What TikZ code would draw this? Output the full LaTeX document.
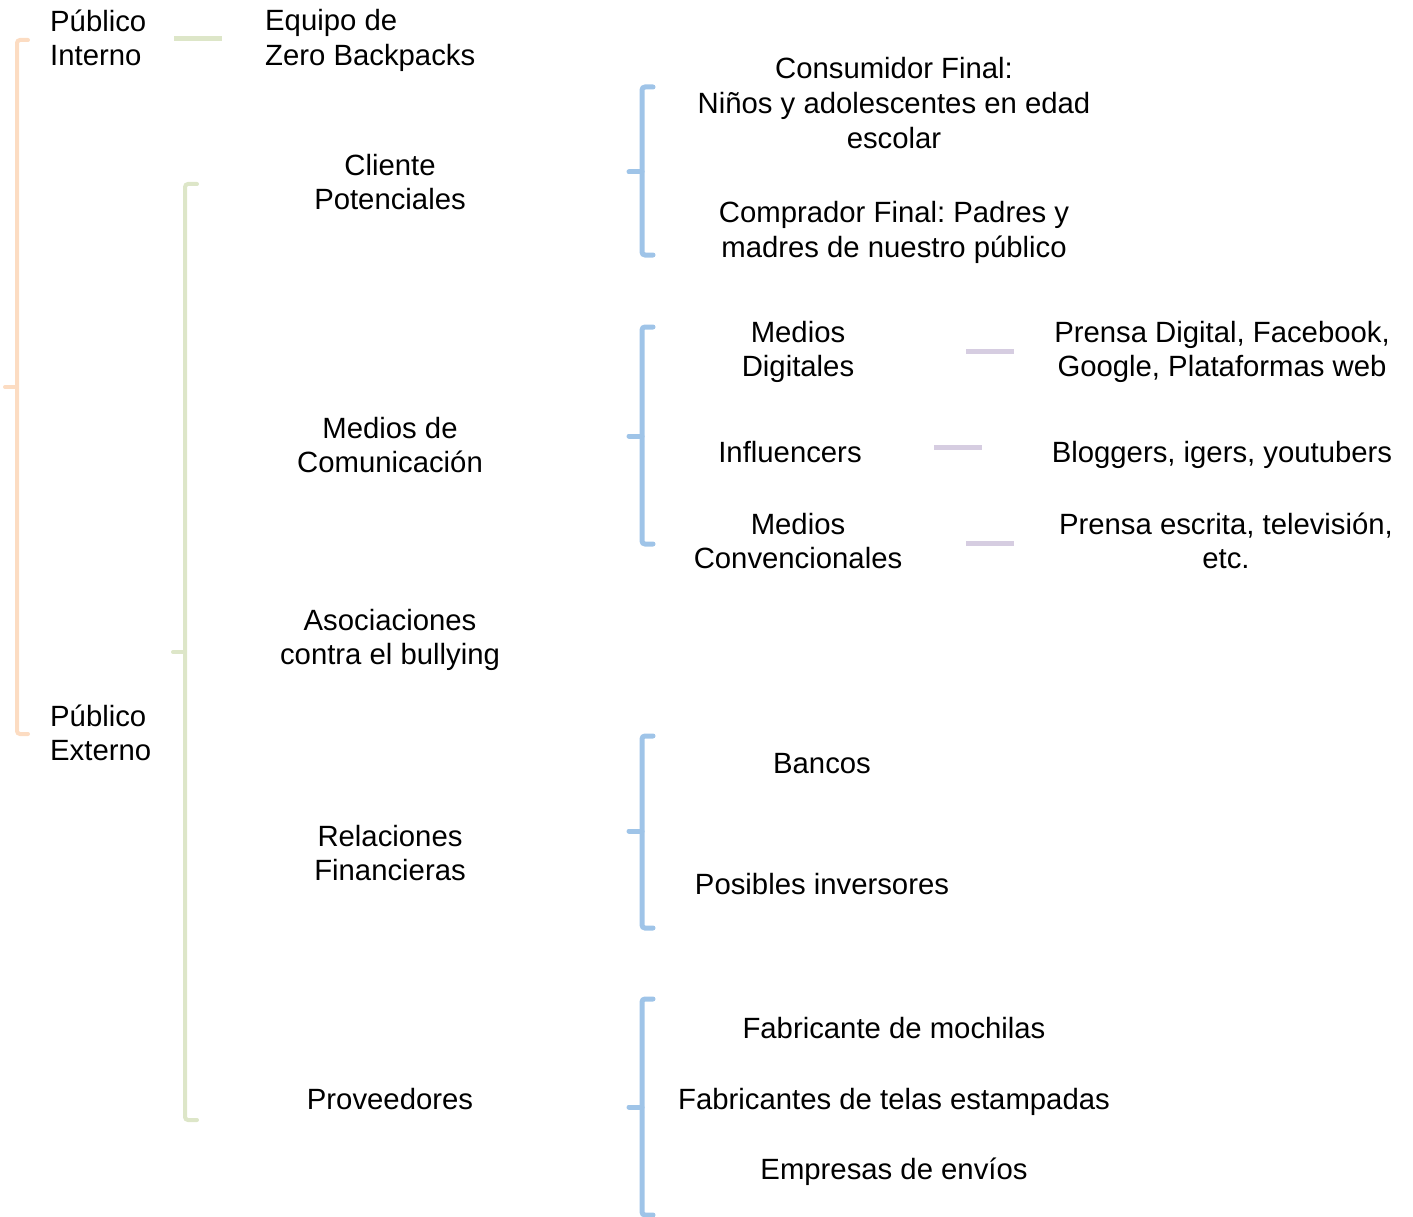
\documentclass[tikz,border=0pt]{standalone}
\usepackage{fontspec}
\setmainfont{Liberation Sans}
\definecolor{cOrange}{HTML}{FCDCC2}
\definecolor{cGreen}{HTML}{DDE6C8}
\definecolor{cBlue}{HTML}{9FC4E8}
\definecolor{cLav}{HTML}{D6CDE1}
\begin{document}
\frenchspacing
\begin{tikzpicture}[x=1pt,y=-1pt,
  lbl/.style={font=\fontsize{29.3}{34.6}\selectfont\frenchspacing, align=center, inner sep=0pt},
  lbll/.style={lbl, align=left, anchor=west},
  brkO/.style={draw=cOrange, line width=4pt, rounded corners=3pt, line cap=round},
  brkG/.style={draw=cGreen, line width=4pt, rounded corners=3pt, line cap=round},
  brkB/.style={draw=cBlue, line width=5pt, rounded corners=3pt, line cap=round},
  dashG/.style={draw=cGreen, line width=5pt},
  dashL/.style={draw=cLav, line width=5pt}]
\useasboundingbox (0,0) rectangle (1413,1217);

% orange bracket
\draw[brkO] (28,40) -- (17,40) -- (17,734) -- (28,734);
\draw[brkO] (17,387) -- (5,387);
% green bracket
\draw[brkG] (197,184) -- (185,184) -- (185,1120) -- (197,1120);
\draw[brkG] (185,652) -- (173,652);
% blue brackets
\draw[brkB] (653,87) -- (642,87) -- (642,255) -- (653,255);
\draw[brkB] (642,172) -- (629,172);
\draw[brkB] (653,327) -- (642,327) -- (642,544) -- (653,544);
\draw[brkB] (642,436) -- (629,436);
\draw[brkB] (653,736) -- (642,736) -- (642,928) -- (653,928);
\draw[brkB] (642,831) -- (629,831);
\draw[brkB] (653,999) -- (642,999) -- (642,1215) -- (653,1215);
\draw[brkB] (642,1107) -- (629,1107);

% level 0
\node[lbll] (pint) at (50,38) {Público\\Interno};
\node[lbll] (pext) at (50,733) {Público\\Externo};
\node[lbll] (equipo) at (265,40.5) {Equipo de\\Zero Backpacks};
\coordinate (g1) at (174,39); \coordinate (g2) at (222,39);
\draw[dashG] (g1) -- (g2);

% level 1
\node[lbl] (cli) at (390,182) {Cliente\\Potenciales};
\node[lbl] (med) at (390,445) {Medios de\\Comunicación};
\node[lbl] (aso) at (390,640) {Asociaciones\\contra el bullying};
\node[lbl] (rel) at (390,853) {Relaciones\\Financieras};
\node[lbl] (prov) at (390,1099) {Proveedores};

% level 2
\node[lbl] (cons) at (894,103) {Consumidor Final:\\Niños y adolescentes en edad\\escolar};
\node[lbl] (comp) at (894,232.5) {Comprador Final: Padres y\\madres de nuestro público};
\node[lbl] (mdig) at (798,352) {Medios\\Digitales};
\node[lbl] (infl) at (790,452) {Influencers};
\node[lbl] (mconv) at (798,541) {Medios\\Convencionales};
\node[lbl] (banc) at (822,764) {Bancos};
\node[lbl] (inv) at (822,884) {Posibles inversores};
\node[lbl] (fmoch) at (894,1028) {Fabricante de mochilas};
\node[lbl] (ftel) at (894,1102) {Fabricantes de telas estampadas};
\node[lbl] (env) at (894,1172) {Empresas de envíos};

% level 3
\node[lbl] (pdig) at (1222,352) {Prensa Digital, Facebook,\\Google, Plataformas web};
\node[lbl] (blog) at (1222,455) {Bloggers, igers, youtubers};
\node[lbl] (pesc) at (1226,541) {Prensa escrita, televisión,\\etc.};

\coordinate (l1a) at (966,351); \coordinate (l1b) at (1014,351);
\coordinate (l2a) at (934,447); \coordinate (l2b) at (982,447);
\coordinate (l3a) at (966,543); \coordinate (l3b) at (1014,543);
\draw[dashL] (l1a) -- (l1b);
\draw[dashL] (l2a) -- (l2b);
\draw[dashL] (l3a) -- (l3b);
\end{tikzpicture}
\end{document}
